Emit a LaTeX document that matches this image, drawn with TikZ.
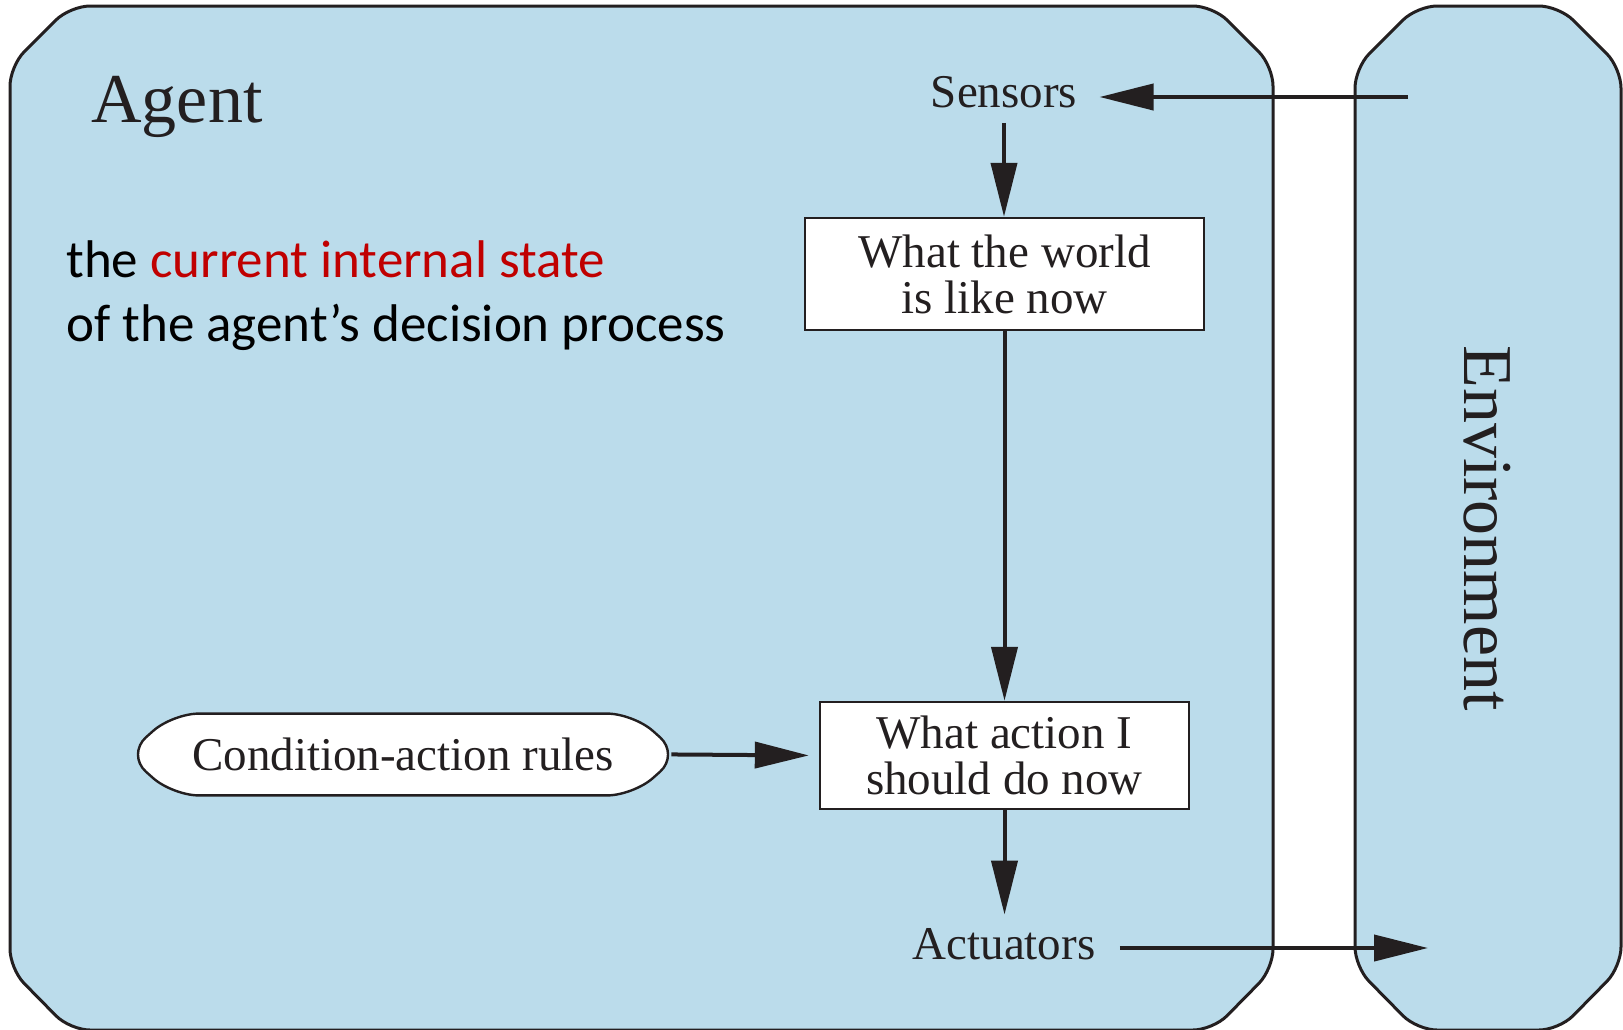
\documentclass[tikz,border=0pt]{standalone}
\usepackage{fontspec}
\setmainfont{Liberation Serif}
\newfontfamily\calibfont{Carlito}
\usetikzlibrary{arrows.meta,calc}
\definecolor{panel}{RGB}{187,220,235}
\definecolor{ink}{RGB}{35,31,32}
\definecolor{hilite}{RGB}{192,0,0}
\newcommand\diagfont{\fontsize{23.5}{23}\selectfont}
\newcommand\bigfont{\fontsize{35}{35}\selectfont}
\pgfdeclarelayer{back}
\pgfdeclarelayer{mid}
\pgfsetlayers{back,mid,main}

\begin{document}
\begin{tikzpicture}[x=0.5pt,y=-0.5pt,
  panelbox/.style={draw=ink,line width=1.5pt,fill=panel,rounded corners=10pt},
  statebox/.style={draw=ink,line width=1.2pt,fill=white,align=center,inner sep=0pt,font=\diagfont,text=ink},
  plainlabel/.style={font=\diagfont,inner sep=0pt,text=ink},
  arr/.style={draw=ink,line width=2pt,-{Triangle[length=27pt,width=13pt]}}
]
\useasboundingbox (0,0) rectangle (1623,1029);

% the two panels
\begin{pgfonlayer}{back}
\path[panelbox] (70,6) -- (1213,6) -- (1273,66) -- (1273,969) -- (1213,1030)
  -- (70,1030) -- (10,969) -- (10,66) -- cycle;
\path[panelbox] (1417,6) -- (1559,6) -- (1621,68) -- (1621,967) -- (1559,1030)
  -- (1417,1030) -- (1355,967) -- (1355,68) -- cycle;
\end{pgfonlayer}

% labels
\node[plainlabel,anchor=base west,font=\bigfont] (agent) at (91,122) {Agent};
\node[plainlabel,rotate=-90,font=\bigfont] (env) at (1487,528) {Environment};

\node[anchor=base west,inner sep=0pt,font=\calibfont\fontsize{26.5}{32}\selectfont] (state1)
  at (66,277) {the \textcolor{hilite}{current internal state}};
\node[anchor=base west,inner sep=0pt,font=\calibfont\fontsize{26.5}{32}\selectfont] (state2)
  at (66,341) {of the agent’s decision process};

% agent components
\node[plainlabel,anchor=base,inner xsep=11pt,inner ysep=7.5pt] (sensors) at (1004,107) {Sensors};
\node[statebox,minimum width=199.5pt,minimum height=56pt] (world) at (1004.5,274)
  {What the world\\is like now};
\node[statebox,minimum width=184.5pt,minimum height=53.5pt] (action) at (1004.5,755.5)
  {What action I\\should do now};
\node[plainlabel,anchor=base,inner xsep=12pt,inner ysep=6.5pt] (act) at (1004,959) {Actuators};
\node[plainlabel,minimum width=276pt,minimum height=40.5pt] (rules) at (403,754.5)
  {Condition-action rules};

\begin{pgfonlayer}{mid}
\draw[draw=ink,line width=1.2pt,fill=white,rounded corners=13pt]
  (rules.west) -- ($(rules.north west)+(46,0)$) -- ($(rules.north east)+(-46,0)$)
  -- (rules.east) -- ($(rules.south east)+(-46,0)$) -- ($(rules.south west)+(46,0)$) -- cycle;
\end{pgfonlayer}

% connectors
\coordinate (envin) at (1408,97);
\coordinate (envout) at (1428,948);
\draw[arr] (envin) -- (envin -| sensors.east);
\draw[arr] (sensors.south) -- (sensors.south |- world.north);
\draw[arr] (world.south) -- (action.north);
\draw[arr,shorten <=-4pt,shorten >=5pt] (rules.east) -- (action.west);
\draw[arr] (action.south) -- (action.south |- act.north);
\draw[arr] (act.east |- envout) -- (envout);
\end{tikzpicture}
\end{document}
